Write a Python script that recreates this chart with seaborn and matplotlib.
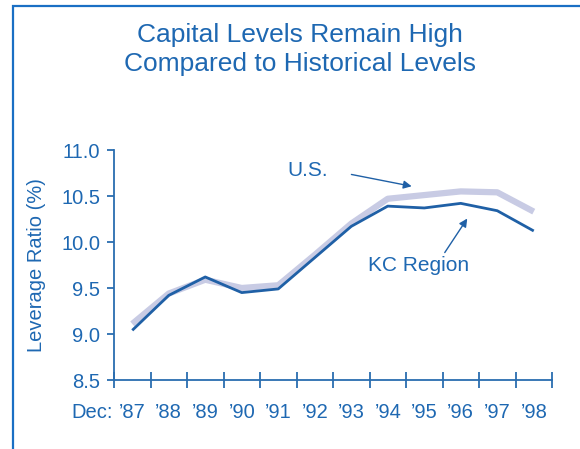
import matplotlib
matplotlib.use("Agg")
import matplotlib.pyplot as plt
import seaborn as sns
import pandas as pd
from matplotlib.patches import Rectangle
from matplotlib.ticker import FixedLocator, NullFormatter

sns.set_theme(style="white")
plt.rcParams['font.family'] = ['Liberation Sans', 'DejaVu Sans']

years = ["\u201987", "\u201988", "\u201989", "\u201990", "\u201991", "\u201992",
         "\u201993", "\u201994", "\u201995", "\u201996", "\u201997", "\u201998"]
us_values = [9.11, 9.44, 9.59, 9.50, 9.53, 9.86, 10.20, 10.47, 10.51, 10.55, 10.54, 10.33]
kc_values = [9.04, 9.42, 9.62, 9.45, 9.49, 9.83, 10.17, 10.39, 10.37, 10.42, 10.34, 10.12]
y_ticks = [8.5, 9.0, 9.5, 10.0, 10.5, 11.0]

TXT = '#1e68b2'
KC_C = '#1f60a6'
US_C = '#c8cbe4'
AX_C = '#2a6db0'

df = pd.DataFrame({'pos': list(range(len(years))) * 2,
                   'value': us_values + kc_values,
                   'series': ['U.S.'] * len(years) + ['KC Region'] * len(years)})

fig = plt.figure(figsize=(5.8, 4.49), dpi=100)
ax = fig.add_axes([114/580, 1 - 380/449, (552-114)/580, 230/449])

sns.lineplot(data=df[df.series == 'U.S.'], x='pos', y='value', color=US_C, lw=4.5, ax=ax,
             solid_capstyle='butt')
sns.lineplot(data=df[df.series == 'KC Region'], x='pos', y='value', color=KC_C, lw=2.0, ax=ax,
             solid_capstyle='butt')

ax.set_xlim(-0.5, len(years) - 0.5)
ax.set_ylim(8.5, 11.0)
ax.set_xlabel('')
ax.set_ylabel('Leverage Ratio (%)', fontsize=14.5, color=TXT, va='center')
ax.yaxis.set_label_coords(-0.178, 0.5)

for s in ['top', 'right']:
    ax.spines[s].set_visible(False)
for s in ['left', 'bottom']:
    ax.spines[s].set_color(AX_C)
    ax.spines[s].set_linewidth(1.3)

ax.set_yticks(y_ticks)
ax.set_yticklabels([f'{v:.1f}' for v in y_ticks])
ax.tick_params(axis='y', direction='out', length=5, width=1.3, color=AX_C, pad=5,
               labelsize=14.5, labelcolor=TXT, left=True)

ax.set_xticks(range(len(years)))
ax.set_xticklabels(years)
ax.xaxis.set_minor_locator(FixedLocator([i - 0.5 for i in range(len(years) + 1)]))
ax.xaxis.set_minor_formatter(NullFormatter())
ax.tick_params(axis='x', which='major', length=0, pad=16.5, labelsize=14.5, labelcolor=TXT)
ax.tick_params(axis='x', which='minor', direction='inout', length=11, width=1.3,
               color=AX_C, bottom=True)
ax.grid(False)

ax.text(-0.003, -0.165, 'Dec:', transform=ax.transAxes, ha='right', va='baseline',
        fontsize=14.5, color=TXT)

# annotations
ax.text(4.25, 10.78, 'U.S.', fontsize=15, color=TXT, ha='left', va='center')
ax.annotate('', xy=(7.73, 10.60), xytext=(5.93, 10.74),
            arrowprops=dict(arrowstyle='-|>', color=KC_C, lw=1.0, mutation_scale=12))
ax.text(6.45, 9.75, 'KC Region', fontsize=15, color=TXT, ha='left', va='center')
ax.annotate('', xy=(9.22, 10.28), xytext=(8.52, 9.86),
            arrowprops=dict(arrowstyle='-|>', color=KC_C, lw=1.0, mutation_scale=12))

# title
fig.text(300/580, 1 - 42/449, 'Capital Levels Remain High', ha='center', va='baseline',
         fontsize=19, color=TXT)
fig.text(300/580, 1 - 71/449, 'Compared to Historical Levels', ha='center', va='baseline',
         fontsize=19, color=TXT)

# frame
fig.patches.append(Rectangle((12.5/580, -0.1), 1.2, 1 - 6/449 + 0.1, transform=fig.transFigure,
                             fill=False, edgecolor='#1a6fc4', lw=1.6))

fig.savefig('out.png', dpi=100)
